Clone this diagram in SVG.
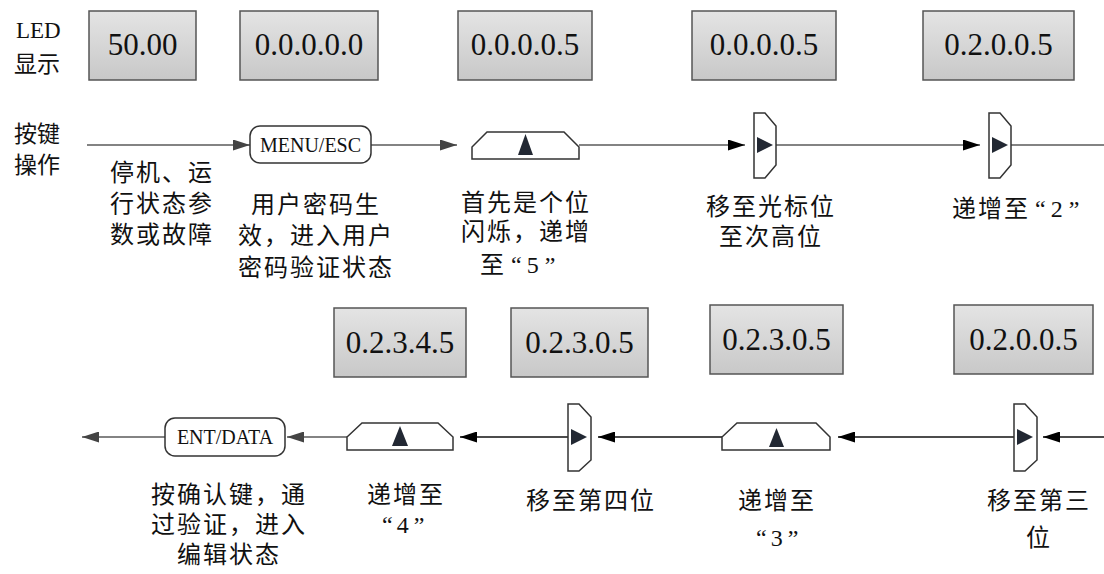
<svg xmlns="http://www.w3.org/2000/svg" width="1104" height="574" viewBox="0 0 1104 574">
<style>
.led{stroke:#555;stroke-width:1.5;fill:url(#gbox)}
.num{font-family:"Liberation Serif",serif;font-size:31px;fill:#111;text-anchor:middle}
.key{fill:#fff;stroke:#333;stroke-width:1.5}
.keyt{font-family:"Liberation Serif",serif;font-size:20px;fill:#111;text-anchor:middle}
.tri{fill:#222833}
.desc{font-family:"Liberation Serif","Noto Sans CJK SC",serif;font-size:24px;letter-spacing:2px;fill:#111}
.mid{text-anchor:middle}
.hdr{font-family:"Liberation Serif","Noto Sans CJK SC",serif;font-size:23px;fill:#111}
.lg{stroke:#5a5a5a;stroke-width:1.5;fill:none}
.lb{stroke:#111;stroke-width:1.5;fill:none}
</style>
<defs>
<linearGradient id="gbox" x1="0" y1="0" x2="0" y2="1">
<stop offset="0" stop-color="#e4e4e4"/>
<stop offset="1" stop-color="#c8c8c8"/>
</linearGradient>
<marker id="ahg" viewBox="0 0 17 11" markerWidth="17" markerHeight="11" refX="17" refY="5.5" orient="auto" markerUnits="userSpaceOnUse"><path d="M0,0 L17,5.5 L0,11 Z" fill="#444"/></marker>
<marker id="ahb" viewBox="0 0 17 11" markerWidth="17" markerHeight="11" refX="17" refY="5.5" orient="auto" markerUnits="userSpaceOnUse"><path d="M0,0 L17,5.5 L0,11 Z" fill="#000"/></marker>
</defs>

<g id="labels">
<text class="hdr" x="16" y="38">LED</text>
<text class="hdr" x="14" y="72">显示</text>
<text class="hdr" x="14" y="142">按键</text>
<text class="hdr" x="14" y="173">操作</text>
</g>

<g id="connectors">
<line class="lg" x1="87" y1="145" x2="250" y2="145" marker-end="url(#ahg)"/>
<line class="lg" x1="371" y1="145" x2="457" y2="145" marker-end="url(#ahg)"/>
<line class="lg" x1="579" y1="145" x2="745" y2="145" marker-end="url(#ahb)"/>
<line class="lg" x1="776" y1="145" x2="980" y2="145" marker-end="url(#ahb)"/>
<line class="lg" x1="1011" y1="145" x2="1104" y2="145"/>
<line class="lb" x1="1104" y1="437" x2="1043" y2="437" marker-end="url(#ahb)"/>
<line class="lb" x1="1014" y1="437" x2="838" y2="437" marker-end="url(#ahb)"/>
<line class="lb" x1="722" y1="437" x2="598" y2="437" marker-end="url(#ahb)"/>
<line class="lb" x1="568" y1="437" x2="460" y2="437" marker-end="url(#ahb)"/>
<line class="lg" x1="347" y1="437" x2="287" y2="437" marker-end="url(#ahg)"/>
<line class="lg" x1="165" y1="437" x2="82" y2="437" marker-end="url(#ahg)"/>
</g>

<g id="led1"><rect class="led" x="89" y="11" width="107" height="69"/><text class="num" x="142.5" y="55">50.00</text></g>
<g id="led2"><rect class="led" x="240" y="11" width="138" height="69"/><text class="num" x="309" y="55">0.0.0.0.0</text></g>
<g id="led3"><rect class="led" x="458" y="11" width="134" height="69"/><text class="num" x="525" y="55">0.0.0.0.5</text></g>
<g id="led4"><rect class="led" x="692" y="11" width="144" height="69"/><text class="num" x="764" y="55">0.0.0.0.5</text></g>
<g id="led5"><rect class="led" x="923" y="11" width="151" height="69"/><text class="num" x="998.5" y="55">0.2.0.0.5</text></g>

<g id="led6"><rect class="led" x="954" y="305" width="139" height="69"/><text class="num" x="1023.5" y="350">0.2.0.0.5</text></g>
<g id="led7"><rect class="led" x="710" y="305" width="133" height="69"/><text class="num" x="776.5" y="350">0.2.3.0.5</text></g>
<g id="led8"><rect class="led" x="511" y="308" width="137" height="69"/><text class="num" x="579.5" y="353">0.2.3.0.5</text></g>
<g id="led9"><rect class="led" x="334" y="308" width="132" height="69"/><text class="num" x="400" y="353">0.2.3.4.5</text></g>

<g id="key-menu"><rect class="key" x="250" y="126" width="121" height="37" rx="10"/><text class="keyt" x="310.5" y="152">MENU/ESC</text></g>
<g id="key-up1"><path class="key" d="M487,132 L564,132 L579,147 L579,159 L472,159 L472,147 Z"/><path class="tri" d="M525.5,134 L533,155 L518,155 Z"/></g>
<g id="key-right1"><path class="key" d="M754,113 L765,113 L776,126 L776,165 L765,178 L754,178 Z"/><path class="tri" d="M757,137 L773,145 L757,153 Z"/></g>
<g id="key-right2"><path class="key" d="M989,113 L1000,113 L1011,126 L1011,165 L1000,178 L989,178 Z"/><path class="tri" d="M992,137 L1008,145 L992,153 Z"/></g>

<g id="key-right3"><path class="key" d="M1014,404 L1025,404 L1037,417 L1037,460 L1025,471 L1014,471 Z"/><path class="tri" d="M1017,429 L1033,437 L1017,445 Z"/></g>
<g id="key-up2"><path class="key" d="M737,423 L816,423 L830,437 L830,450 L722,450 L722,437 Z"/><path class="tri" d="M776.5,428 L784,447 L769,447 Z"/></g>
<g id="key-right4"><path class="key" d="M568,404 L579,404 L591,417 L591,460 L579,471 L568,471 Z"/><path class="tri" d="M571,429 L587,437 L571,445 Z"/></g>
<g id="key-up3"><path class="key" d="M362,423 L438,423 L453,437 L453,450 L347,450 L347,437 Z"/><path class="tri" d="M400,426 L408,446 L392,446 Z"/></g>
<g id="key-ent"><rect class="key" x="165" y="418" width="120" height="38" rx="10"/><text class="keyt" x="225" y="444">ENT/DATA</text></g>

<g id="descriptions">
<text class="desc" x="110" y="181">停机、运</text>
<text class="desc" x="110" y="212">行状态参</text>
<text class="desc" x="110" y="243">数或故障</text>
<text class="desc mid" x="316" y="213">用户密码生</text>
<text class="desc mid" x="316" y="244">效，进入用户</text>
<text class="desc mid" x="316" y="276">密码验证状态</text>
<text class="desc mid" x="526" y="211">首先是个位</text>
<text class="desc mid" x="526" y="240">闪烁，递增</text>
<text class="desc" x="480" y="273">至<tspan dx="5">“</tspan><tspan dx="3">5</tspan><tspan dx="4">”</tspan></text>
<text class="desc mid" x="771" y="215">移至光标位</text>
<text class="desc mid" x="771" y="245">至次高位</text>
<text class="desc" x="952" y="217">递增至<tspan dx="5">“</tspan><tspan dx="3">2</tspan><tspan dx="4">”</tspan></text>
<text class="desc mid" x="229" y="503">按确认键，通</text>
<text class="desc mid" x="229" y="533">过验证，进入</text>
<text class="desc mid" x="229" y="563">编辑状态</text>
<text class="desc mid" x="406" y="503">递增至</text>
<text class="desc" x="382" y="533">“<tspan dx="2">4</tspan><tspan dx="3">”</tspan></text>
<text class="desc mid" x="591" y="509">移至第四位</text>
<text class="desc mid" x="777" y="509">递增至</text>
<text class="desc" x="756" y="546">“<tspan dx="2">3</tspan><tspan dx="3">”</tspan></text>
<text class="desc mid" x="1039" y="509">移至第三</text>
<text class="desc mid" x="1039" y="546">位</text>
</g>
</svg>
